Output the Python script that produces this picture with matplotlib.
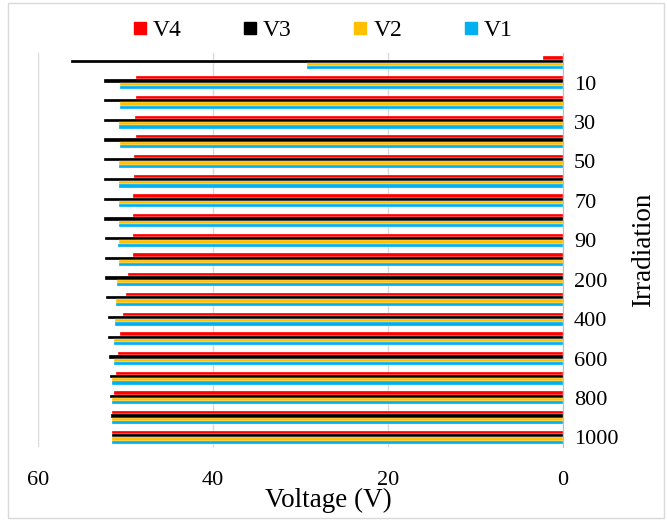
import matplotlib.pyplot as plt
import matplotlib as mpl
from matplotlib.lines import Line2D
from matplotlib.patches import Rectangle
import numpy as np

plt.rcParams['font.family'] = ['Liberation Serif', 'DejaVu Serif']

irradiation = [0, 10, 20, 30, 40, 50, 60, 70, 80, 90, 100,
               200, 300, 400, 500, 600, 700, 800, 900, 1000]
v4 = [2.3, 48.8, 48.8, 48.9, 48.8, 49.0, 49.0, 49.1, 49.1, 49.1, 49.2,
      49.7, 50.0, 50.3, 50.6, 50.9, 51.1, 51.3, 51.5, 51.6]
v3 = [56.2, 52.5, 52.5, 52.5, 52.5, 52.5, 52.5, 52.5, 52.5, 52.4, 52.4,
      52.3, 52.2, 52.0, 51.95, 51.85, 51.8, 51.8, 51.7, 51.6]
v2 = [29.3, 50.6, 50.6, 50.7, 50.6, 50.7, 50.7, 50.7, 50.7, 50.8, 50.8,
      51.0, 51.1, 51.2, 51.3, 51.3, 51.5, 51.5, 51.6, 51.6]
v1 = [29.3, 50.6, 50.6, 50.7, 50.6, 50.7, 50.7, 50.75, 50.7, 50.85, 50.8,
      51.0, 51.1, 51.25, 51.35, 51.35, 51.5, 51.55, 51.6, 51.6]

series = [("V4", v4, "#FF0000"), ("V3", v3, "#000000"),
          ("V2", v2, "#FFC000"), ("V1", v1, "#00B0F0")]

fig = plt.figure(figsize=(6.67, 5.2), dpi=100)
ax = fig.add_axes([0.057, 0.140, 0.787, 0.758])

y = np.arange(len(irradiation))
h = 0.165
for i, (name, vals, color) in enumerate(series):
    ax.barh(y + (i - 1.5) * h, vals, height=h, color=color,
            edgecolor="white", linewidth=0.2, zorder=3)

ax.set_xlim(60, 0)
ax.set_ylim(len(irradiation) - 0.5, -0.5)
ax.set_xticks([60, 40, 20, 0])
ax.tick_params(axis="x", length=0, labelsize=16, pad=17)
ax.grid(axis="x", color="#d9d9d9", linewidth=1, zorder=0)

ax.yaxis.tick_right()
ax.yaxis.set_label_position("right")
ax.set_yticks(y[1::2])
ax.set_yticklabels([str(v) for v in irradiation[1::2]])
ax.tick_params(axis="y", length=0, labelsize=16, pad=8)

for s in ["top", "bottom", "left"]:
    ax.spines[s].set_visible(False)
ax.spines["right"].set_color("#bfbfbf")

ax.set_xlabel("Voltage (V)", fontsize=19.5)
ax.xaxis.set_label_coords(0.554, -0.104)
ax.set_ylabel("Irradiation", fontsize=19.5, labelpad=9)

handles = [Line2D([], [], marker="s", linestyle="none", markersize=9,
                  color=c, label=n) for n, _, c in series]
fig.legend(handles=handles, loc="center", bbox_to_anchor=(0.482, 0.942),
           ncol=4, frameon=False, fontsize=17, handletextpad=0.15,
           columnspacing=2.5, handlelength=0.8)

fig.patches.append(Rectangle((0.012, 0.004), 0.984, 0.99, transform=fig.transFigure,
                             fill=False, edgecolor="#d9d9d9", linewidth=1))

fig.savefig("out.png", dpi=100)
